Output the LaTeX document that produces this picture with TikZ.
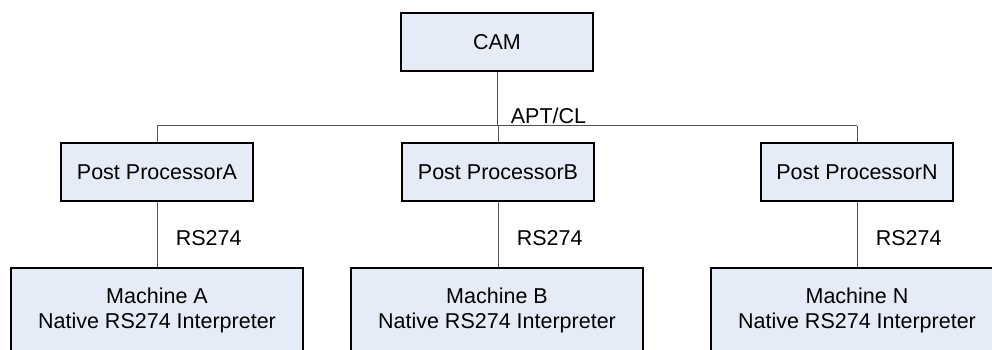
\documentclass[tikz,border=0pt]{standalone}
\usepackage{fontspec}
\setmainfont{Liberation Sans}
\usetikzlibrary{positioning}
\definecolor{boxfill}{RGB}{230,236,247}
\definecolor{linegray}{RGB}{80,80,80}

\begin{document}
\begin{tikzpicture}[x=1pt,y=1pt,font=\fontsize{21.5}{25}\selectfont]
  \tikzstyle{box}=[draw=black,fill=boxfill,line width=1.3pt,inner sep=0pt,
                   minimum width=192pt,minimum height=58pt]
  \tikzstyle{machine}=[box,minimum width=292pt,minimum height=84pt,align=center]
  \tikzstyle{wire}=[draw=linegray,line width=1pt]

  \clip (0,0) rectangle (992,350);

  \node[box]     (cam) at (497,308) {CAM};
  \node[box]     (ppA) at (157,178) {Post ProcessorA};
  \node[box]     (ppB) at (498,178) {Post ProcessorB};
  \node[box]     (ppN) at (857,178) {Post ProcessorN};
  \node[machine] (mA)  at (157,40)  {Machine A\\Native RS274 Interpreter};
  \node[machine] (mB)  at (497,40)  {Machine B\\Native RS274 Interpreter};
  \node[machine] (mN)  at (857,40)  {Machine N\\Native RS274 Interpreter};

  \coordinate (bus) at (497,224);
  \coordinate (busA) at (ppA.north |- bus);
  \coordinate (busN) at (ppN.north |- bus);

  \draw[wire] (cam.south) -- (bus) node[pos=0.82,right=10pt] {APT/CL};
  \draw[wire] (busA) -- (busN);
  \draw[wire] (busA) -- (ppA.north);
  \draw[wire] (bus -| ppB.north) -- (ppB.north);
  \draw[wire] (busN) -- (ppN.north);

  \draw[wire] (ppA.south) -- (ppA.south |- mA.north) node[pos=0.55,right=15pt] {RS274};
  \draw[wire] (ppB.south) -- (ppB.south |- mB.north) node[pos=0.55,right=15pt] {RS274};
  \draw[wire] (ppN.south) -- (ppN.south |- mN.north) node[pos=0.55,right=15pt] {RS274};
\end{tikzpicture}
\end{document}
